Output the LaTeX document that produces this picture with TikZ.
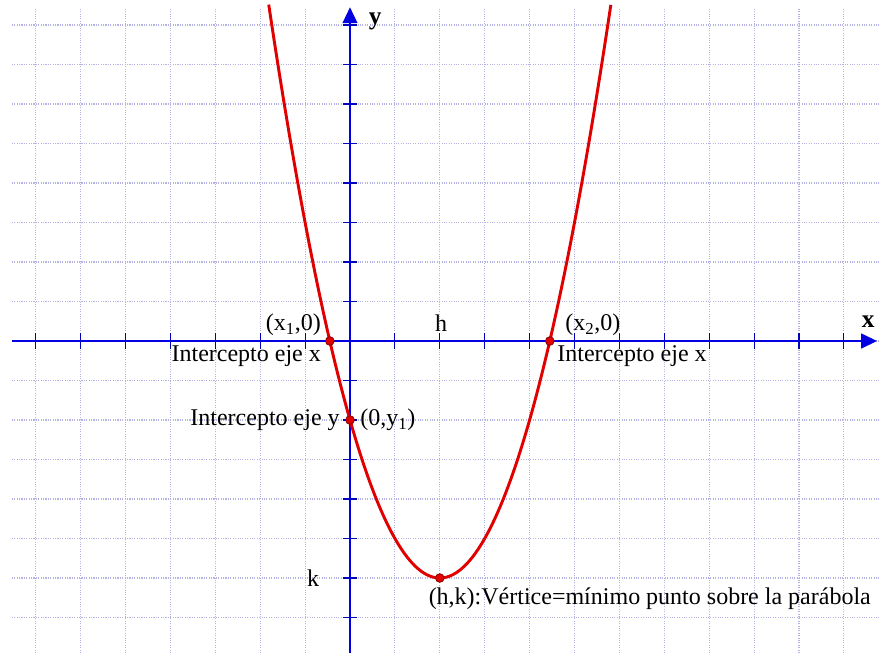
\documentclass[tikz,border=0pt]{standalone}
\usepackage{fontspec}
\setmainfont{Liberation Serif}
\usetikzlibrary{arrows.meta,positioning}

\definecolor{lineagrid}{RGB}{180,180,228}
\definecolor{azuleje}{RGB}{0,0,225}
\definecolor{rojocurva}{RGB}{225,0,0}

\begin{document}
\begin{tikzpicture}[
  x=33.675pt, y=29.625pt,
  rejilla/.style={draw=lineagrid, densely dotted, line width=0.8pt},
  eje/.style={draw=azuleje, line width=1.7pt, -{Triangle[length=12pt,width=11pt]}},
  marca/.style={draw=azuleje!85!black, line width=0.8pt},
  curva/.style={draw=rojocurva, line width=2.2pt},
  punto/.style={circle, fill=rojocurva, draw=red!55!black, line width=0.6pt,
    inner sep=0pt, minimum size=6.5pt},
  etiqueta/.style={font=\fontsize{18}{20}\selectfont, inner sep=1pt},
  nombreeje/.style={font=\fontsize{19}{20}\selectfont\bfseries, inner sep=1pt}
]
\useasboundingbox (-7.795,-7.899) rectangle (11.826,8.633);

% rejilla
\foreach \i in {-7,...,11} { \draw[rejilla] (\i,-7.9) -- (\i,8.4); }
\foreach \j in {-7,...,8} { \draw[rejilla] (-7.53,\j) -- (11.83,\j); }

% ejes y marcas
\foreach \i in {-7,...,11} { \draw[marca] (\i,-0.2) -- (\i,0.2); }
\foreach \j in {-7,...,8} { \draw[marca] (-0.15,\j) -- (0.15,\j); }
\draw[eje] (-7.53,0) -- (11.74,0);
\draw[eje] (0,-7.9) -- (0,8.45);
\node[nombreeje] (ejex) at (11.54,0.48) {x};
\node[nombreeje] (ejey) at (0.56,8.08) {y};

% parabola y=(x-2)^2-6
\draw[curva] plot[domain=-1.81:5.81, samples=120] (\x,{(\x-2)^2-6});

\node[punto] (x1) at ({2-sqrt(6)},0) {};
\node[punto] (x2) at ({2+sqrt(6)},0) {};
\node[punto] (y1) at (0,-2) {};
\node[punto] (vert) at (2,-6) {};

\node[etiqueta, above left=0pt and 3pt of x1] (lx1) {(x\textsubscript{1},0)};
\node[etiqueta, below left=0pt and 3pt of x1] (ix1) {Intercepto eje x};
\node[etiqueta, above right=0pt and 8pt of x2] (lx2) {(x\textsubscript{2},0)};
\node[etiqueta, below right=0pt and 2pt of x2] (ix2) {Intercepto eje x};
\node[etiqueta, left=3pt of y1] (iy1) {Intercepto eje y};
\node[etiqueta, right=3pt of y1] (ly1) {(0,y\textsubscript{1})};
\node[etiqueta] (h) at (2.03,0.46) {h};
\node[etiqueta] (k) at (-0.82,-6) {k};
\node[etiqueta, below right=4pt and -12pt of vert] (lvert) {(h,k):Vértice=mínimo punto sobre la parábola};
\end{tikzpicture}
\end{document}
